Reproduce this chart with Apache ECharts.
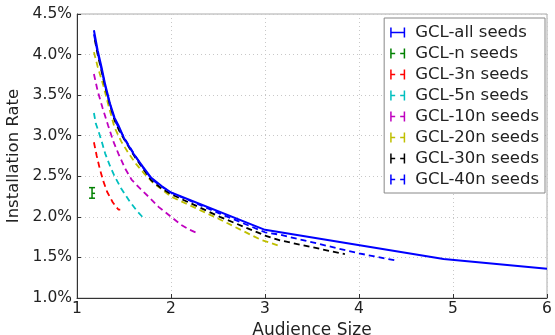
<!DOCTYPE html>
<html>
<head>
<meta charset="utf-8">
<script src="https://cdn.jsdelivr.net/npm/echarts@6/dist/echarts.min.js"></script>
<style>
  html, body { margin: 0; padding: 0; background: #fff; }
  #main { width: 555px; height: 335px; }
</style>
</head>
<body>
<div id="main"></div>
<script>
// 数据：[受众规模, 安装率(%)]
const allSeeds = [[1.18, 4.30], [1.22, 4.05], [1.26, 3.85], [1.30, 3.63], [1.35, 3.40], [1.40, 3.22], [1.44, 3.13], [1.50, 2.97], [1.60, 2.78], [1.70, 2.62], [1.79, 2.48], [1.90, 2.38], [2.00, 2.30], [3.00, 1.84], [4.90, 1.48], [6.00, 1.36]]
const nSeeds = [[1.16, 2.29, 2.23, 2.36]] // x, y, 下界, 上界
const seeds3n = [[1.18, 2.92], [1.21, 2.75], [1.245, 2.58], [1.28, 2.44], [1.32, 2.31], [1.38, 2.18], [1.44, 2.09], [1.46, 2.09]]
const seeds5n = [[1.18, 3.28], [1.20, 3.15], [1.23, 3.05], [1.27, 2.90], [1.30, 2.78], [1.35, 2.63], [1.40, 2.50], [1.47, 2.35], [1.56, 2.19], [1.64, 2.07], [1.72, 1.97]]
const seeds10n = [[1.18, 3.76], [1.22, 3.55], [1.27, 3.35], [1.33, 3.13], [1.39, 2.92], [1.44, 2.78], [1.51, 2.60], [1.58, 2.46], [1.67, 2.35], [1.76, 2.25], [1.87, 2.12], [1.97, 2.03], [2.11, 1.90], [2.20, 1.84], [2.28, 1.80]]
const seeds20n = [[1.18, 4.03], [1.22, 3.85], [1.28, 3.62], [1.34, 3.35], [1.40, 3.10], [1.47, 2.93], [1.55, 2.78], [1.63, 2.65], [1.71, 2.54], [1.80, 2.43], [1.90, 2.34], [2.00, 2.25], [2.50, 1.98], [2.95, 1.72], [3.16, 1.64]]
const seeds30n = [[1.19, 4.18], [1.22, 4.00], [1.26, 3.80], [1.30, 3.60], [1.35, 3.38], [1.40, 3.19], [1.45, 3.06], [1.52, 2.92], [1.62, 2.73], [1.70, 2.60], [1.79, 2.45], [1.90, 2.35], [2.00, 2.28], [2.52, 2.00], [3.00, 1.77], [3.16, 1.71], [3.85, 1.54]]
const seeds40n = [[1.18, 4.25], [1.22, 4.02], [1.26, 3.82], [1.30, 3.61], [1.35, 3.39], [1.40, 3.20], [1.45, 3.08], [1.52, 2.94], [1.62, 2.75], [1.70, 2.61], [1.79, 2.47], [1.90, 2.37], [2.00, 2.30], [2.52, 2.04], [3.00, 1.81], [3.16, 1.78], [4.00, 1.55], [4.40, 1.46]]

const FONT = 'DejaVu Sans'
// 图例图标（误差棒样式）
const iconSolid = 'path://M0,0h1.5v10h-1.5z M13.5,0h1.5v10h-1.5z M0,4.25h15v1.5h-15z'
const iconDash = 'path://M0,0h1.5v10h-1.5z M0,4.25h5v1.5h-5z M10,4.25h5v1.5h-5z M13.5,0h1.5v10h-1.5z'

function lineSeries(name, data, color, dashed) {
  return {
    name,
    type: 'line',
    data,
    showSymbol: false,
    symbol: 'none',
    animation: false,
    itemStyle: { color },
    lineStyle: { color, width: dashed ? 1.8 : 2, type: dashed ? [6, 4] : 'solid' },
    z: dashed ? 3 : 4
  }
}

const chart = echarts.init(document.getElementById('main'))
chart.setOption({
  animation: false,
  textStyle: { fontFamily: FONT },
  grid: { left: 77, right: 8, top: 14, bottom: 37, outerBoundsMode: 'none', show: true, borderColor: '#aaa', borderWidth: 1 },
  legend: {
    right: 10,
    top: 18,
    orient: 'vertical',
    backgroundColor: '#fff',
    borderColor: '#888',
    borderWidth: 1,
    padding: [6, 6, 5, 6],
    itemWidth: 15,
    itemHeight: 10,
    itemGap: 4,
    itemStyle: { borderWidth: 0 },
    textStyle: { fontFamily: FONT, fontSize: 16.5, color: '#222', padding: [0, 0, 0, 5] },
    data: [
      { name: 'GCL-all seeds', icon: iconSolid },
      { name: 'GCL-n seeds', icon: iconDash },
      { name: 'GCL-3n seeds', icon: iconDash },
      { name: 'GCL-5n seeds', icon: iconDash },
      { name: 'GCL-10n seeds', icon: iconDash },
      { name: 'GCL-20n seeds', icon: iconDash },
      { name: 'GCL-30n seeds', icon: iconDash },
      { name: 'GCL-40n seeds', icon: iconDash }
    ]
  },
  xAxis: {
    type: 'value',
    min: 1,
    max: 6,
    interval: 1,
    name: 'Audience Size',
    nameLocation: 'middle',
    nameGap: 22,
    nameTextStyle: { fontFamily: FONT, fontSize: 17, color: '#222' },
    axisLine: { lineStyle: { color: '#333', width: 1 } },
    axisTick: { inside: true, length: 4, lineStyle: { color: '#333' } },
    axisLabel: { fontFamily: FONT, fontSize: 15.5, color: '#222', margin: 3 },
    splitLine: { lineStyle: { color: '#c8c8c8', type: [1, 3] } }
  },
  yAxis: {
    type: 'value',
    min: 1.0,
    max: 4.5,
    interval: 0.5,
    name: 'Installation Rate',
    nameLocation: 'middle',
    nameGap: 51,
    nameTextStyle: { fontFamily: FONT, fontSize: 16.5, color: '#222' },
    axisLine: { show: true, lineStyle: { color: '#333', width: 1 } },
    axisTick: { show: true, inside: true, length: 4, lineStyle: { color: '#333' } },
    axisLabel: { fontFamily: FONT, fontSize: 15.5, color: '#222', margin: 5, formatter: v => v.toFixed(1) + '%' },
    splitLine: { lineStyle: { color: '#c8c8c8', type: [1, 3] } }
  },
  series: [
    lineSeries('GCL-all seeds', allSeeds, '#0000ff', false),
    {
      name: 'GCL-n seeds',
      type: 'custom',
      data: nSeeds,
      itemStyle: { color: '#008000' },
      encode: { x: 0, y: [1, 2, 3] },
      renderItem: (params, api) => {
        const c = api.coord([api.value(0), api.value(1)])
        const lo = api.coord([api.value(0), api.value(2)])
        const hi = api.coord([api.value(0), api.value(3)])
        const style = { stroke: '#008000', lineWidth: 1.5 }
        return {
          type: 'group',
          children: [
            { type: 'line', shape: { x1: c[0], y1: lo[1], x2: c[0], y2: hi[1] }, style },
            { type: 'line', shape: { x1: c[0] - 3, y1: lo[1], x2: c[0] + 3, y2: lo[1] }, style },
            { type: 'line', shape: { x1: c[0] - 3, y1: hi[1], x2: c[0] + 3, y2: hi[1] }, style },
            { type: 'line', shape: { x1: c[0], y1: c[1], x2: c[0] + 3, y2: c[1] }, style }
          ]
        }
      }
    },
    lineSeries('GCL-3n seeds', seeds3n, '#ff0000', true),
    lineSeries('GCL-5n seeds', seeds5n, '#00bfbf', true),
    lineSeries('GCL-10n seeds', seeds10n, '#bf00bf', true),
    lineSeries('GCL-20n seeds', seeds20n, '#bfbf00', true),
    lineSeries('GCL-30n seeds', seeds30n, '#000000', true),
    lineSeries('GCL-40n seeds', seeds40n, '#0000ff', true)
  ]
})
</script>
</body>
</html>
